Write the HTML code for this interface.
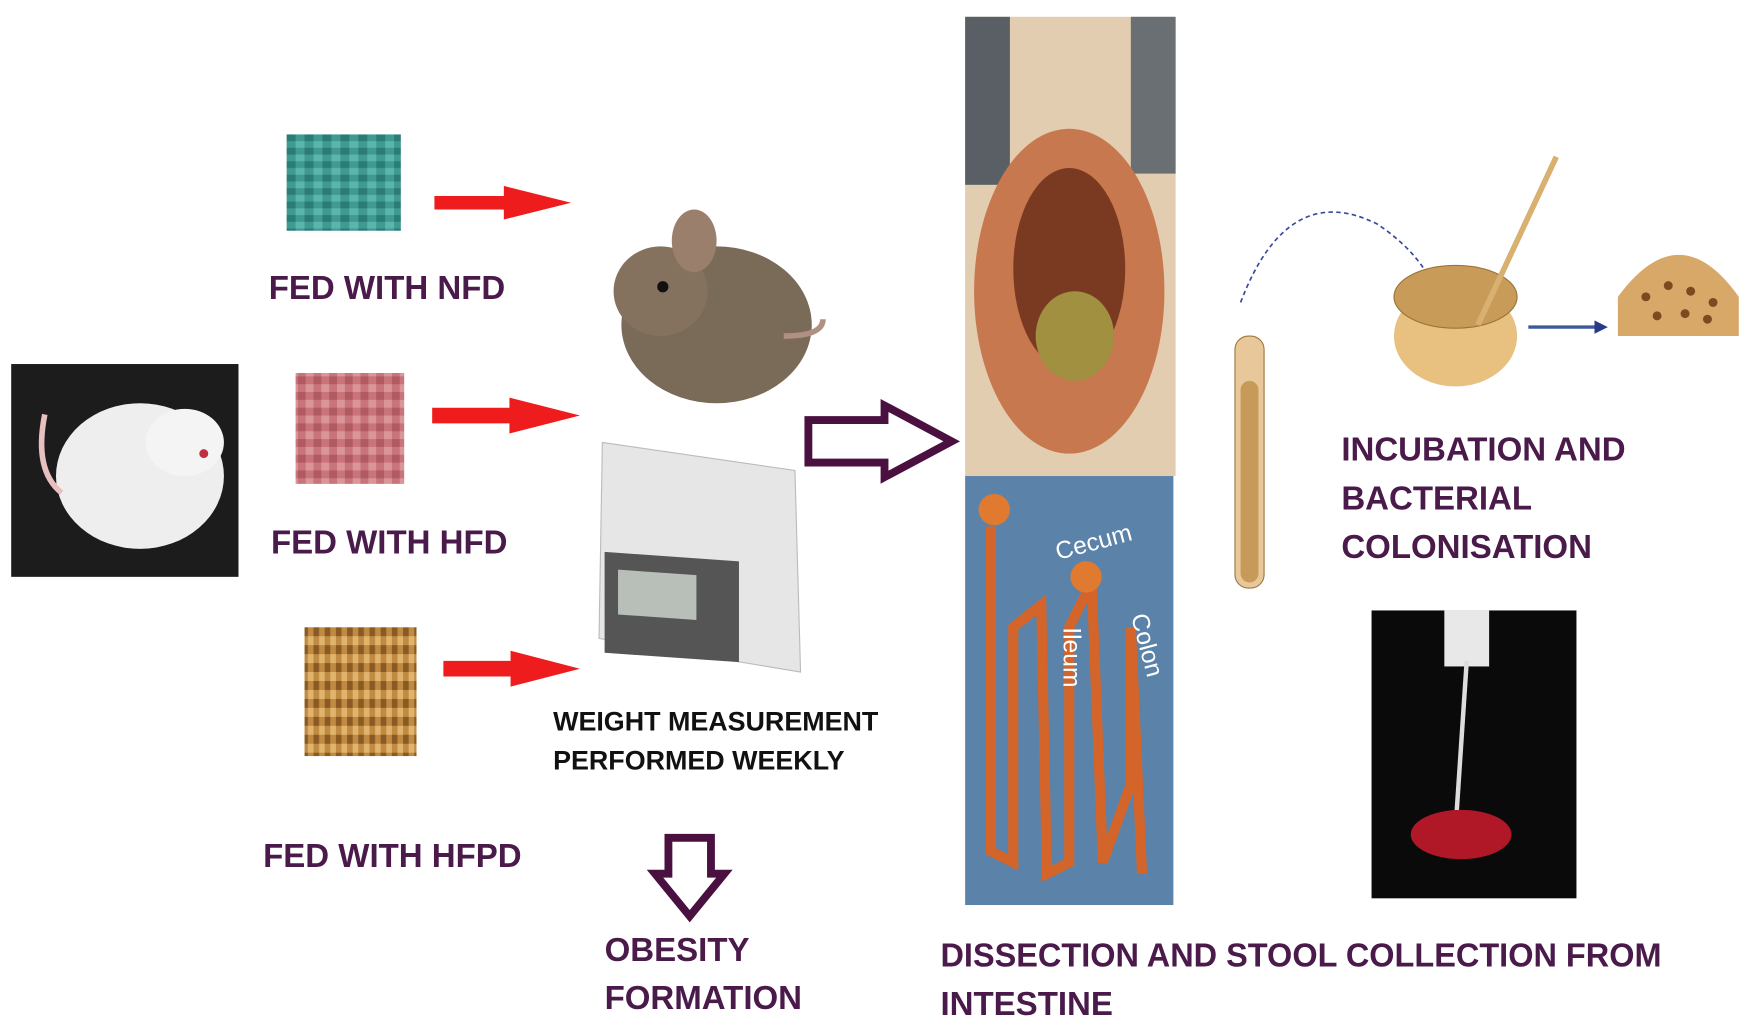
<!DOCTYPE html>
<html><head><meta charset="utf-8"><style>
html,body{margin:0;padding:0;background:#fff;overflow:hidden}
svg{display:block}
text{font-family:"Liberation Sans",Arial,sans-serif;font-weight:bold}
</style></head><body>
<svg width="1750" height="1026" viewBox="0 0 1563 916" preserveAspectRatio="none" xmlns="http://www.w3.org/2000/svg">
<defs>
<pattern id="teal" width="16" height="12" patternUnits="userSpaceOnUse"><rect width="16" height="12" fill="#3f9a92"/><rect width="8" height="6" fill="#2c7c76"/><rect x="8" y="6" width="8" height="6" fill="#5cb5aa"/></pattern>
<pattern id="pink" width="14" height="14" patternUnits="userSpaceOnUse"><rect width="14" height="14" fill="#c9737a"/><rect width="7" height="7" fill="#b25a62"/><rect x="7" y="7" width="7" height="7" fill="#d9959a"/></pattern>
<pattern id="brown" width="10" height="16" patternUnits="userSpaceOnUse"><rect width="10" height="16" fill="#c08a42"/><rect width="5" height="8" fill="#8a5a24"/><rect x="5" y="8" width="5" height="8" fill="#e0b46c"/></pattern>
<marker id="ra" markerWidth="4" markerHeight="4" refX="2" refY="2" orient="auto"><path d="M0,0 L4,2 L0,4z" fill="#2a3a8a"/></marker>
</defs>
<rect x="10" y="325" width="203" height="190" fill="#1c1c1c"/>
<ellipse cx="125" cy="425" rx="75" ry="65" fill="#eeeeee"/>
<ellipse cx="165" cy="395" rx="35" ry="30" fill="#f4f4f4"/>
<circle cx="182" cy="405" r="4" fill="#c03040"/>
<path d="M55,440 Q30,420 40,370" stroke="#e8c0c0" stroke-width="5" fill="none"/>
<rect x="256" y="120" width="102" height="86" fill="url(#teal)"/>
<rect x="264" y="333" width="97" height="99" fill="url(#pink)"/>
<rect x="272" y="560" width="100" height="115" fill="url(#brown)"/>
<g fill="#ee1c1c">
<path d="M388,175 H450 V166 L510,181 L450,196 V187 H388z"/>
<path d="M386,364 H455 V355 L518,371 L455,387 V378 H386z"/>
<path d="M396,590 H456 V581 L518,597 L456,613 V604 H396z"/>
</g>
<g fill="#4a1a4a" font-size="29.5">
<text x="240" y="267">FED WITH NFD</text>
<text x="242" y="494">FED WITH HFD</text>
<text x="235" y="774">FED WITH HFPD</text>
<text x="540" y="858">OBESITY</text>
<text x="540" y="901">FORMATION</text>
<text x="840" y="863" textLength="644" lengthAdjust="spacingAndGlyphs">DISSECTION AND STOOL COLLECTION FROM</text>
<text x="840" y="906">INTESTINE</text>
<text x="1198" y="411">INCUBATION AND</text>
<text x="1198" y="455">BACTERIAL</text>
<text x="1198" y="498">COLONISATION</text>
</g>
<ellipse cx="640" cy="290" rx="85" ry="70" fill="#7a6a58"/>
<ellipse cx="590" cy="260" rx="42" ry="40" fill="#85725e"/>
<ellipse cx="620" cy="215" rx="20" ry="28" fill="#9a7f6c"/>
<circle cx="592" cy="256" r="5" fill="#111"/>
<path d="M700,300 Q735,300 735,285" stroke="#b09080" stroke-width="5" fill="none"/>
<path d="M538,395 L710,420 L715,600 L535,570z" fill="#e6e6e6" stroke="#bbb"/>
<rect x="540" y="455" width="120" height="90" fill="#555" transform="skewY(4)"/>
<rect x="552" y="470" width="70" height="40" fill="#b8bfb8" transform="skewY(4)"/>
<g fill="#111" font-size="24">
<text x="494" y="652">WEIGHT MEASUREMENT</text>
<text x="494" y="687">PERFORMED WEEKLY</text>
</g>
<path d="M722,375 H790 V362 L850,394 L790,426 V413 H722z" fill="none" stroke="#4a1040" stroke-width="7"/>
<path d="M597,748 V780 H585 L616,818 L647,780 H635 V748z" fill="none" stroke="#4a1040" stroke-width="7"/>
<rect x="862" y="15" width="188" height="410" fill="#e2cdb0"/>
<rect x="862" y="15" width="40" height="150" fill="#5a5f66"/>
<rect x="1010" y="15" width="40" height="140" fill="#6a6f74"/>
<ellipse cx="955" cy="260" rx="85" ry="145" fill="#c8784e"/>
<ellipse cx="955" cy="240" rx="50" ry="90" fill="#7a3a22"/>
<ellipse cx="960" cy="300" rx="35" ry="40" fill="#a09040"/>
<rect x="862" y="425" width="186" height="383" fill="#5b82a8"/>
<path d="M885,470 L885,760 L905,770 L905,560 L930,540 L935,780 L955,770 L955,560 L975,520 L985,770 L1010,700 L1010,560 L1020,780" stroke="#d4652a" stroke-width="9" fill="none"/>
<circle cx="888" cy="455" r="14" fill="#e07a30"/>
<circle cx="970" cy="515" r="14" fill="#e07a30"/>
<g fill="#fff" font-size="22">
<text x="945" y="500" transform="rotate(-15 945 500)" style="font-weight:normal">Cecum</text>
<text x="950" y="560" transform="rotate(90 950 560)" style="font-weight:normal">Ileum</text>
<text x="1010" y="550" transform="rotate(75 1010 550)" style="font-weight:normal">Colon</text>
</g>
<path d="M1108,270 Q1150,160 1230,200 Q1260,220 1275,245" stroke="#3a4a9a" stroke-width="1.5" stroke-dasharray="4,3" fill="none"/>
<rect x="1103" y="300" width="26" height="225" rx="12" fill="#e8c89a" stroke="#a07838"/>
<rect x="1108" y="340" width="16" height="180" rx="8" fill="#c89a5a"/>
<ellipse cx="1300" cy="300" rx="55" ry="45" fill="#e8c080"/>
<ellipse cx="1300" cy="265" rx="55" ry="28" fill="#c89c58" stroke="#9a7438"/>
<line x1="1320" y1="290" x2="1390" y2="140" stroke="#d8b070" stroke-width="5"/>
<line x1="1365" y1="292" x2="1430" y2="292" stroke="#3a5a9a" stroke-width="3" marker-end="url(#ra)"/>
<path d="M1445,300 L1445,265 Q1500,190 1553,265 L1553,300z" fill="#d8a868"/>
<g fill="#7a4a20"><circle cx="1470" cy="265" r="4"/><circle cx="1490" cy="255" r="4"/><circle cx="1510" cy="260" r="4"/><circle cx="1530" cy="270" r="4"/><circle cx="1480" cy="282" r="4"/><circle cx="1505" cy="280" r="4"/><circle cx="1525" cy="285" r="4"/></g>
<rect x="1225" y="545" width="183" height="257" fill="#0a0a0a"/>
<rect x="1290" y="545" width="40" height="50" fill="#e8e8e8"/>
<line x1="1310" y1="590" x2="1300" y2="740" stroke="#ddd" stroke-width="4"/>
<ellipse cx="1305" cy="745" rx="45" ry="22" fill="#b01828"/>
</svg>
</body></html>
